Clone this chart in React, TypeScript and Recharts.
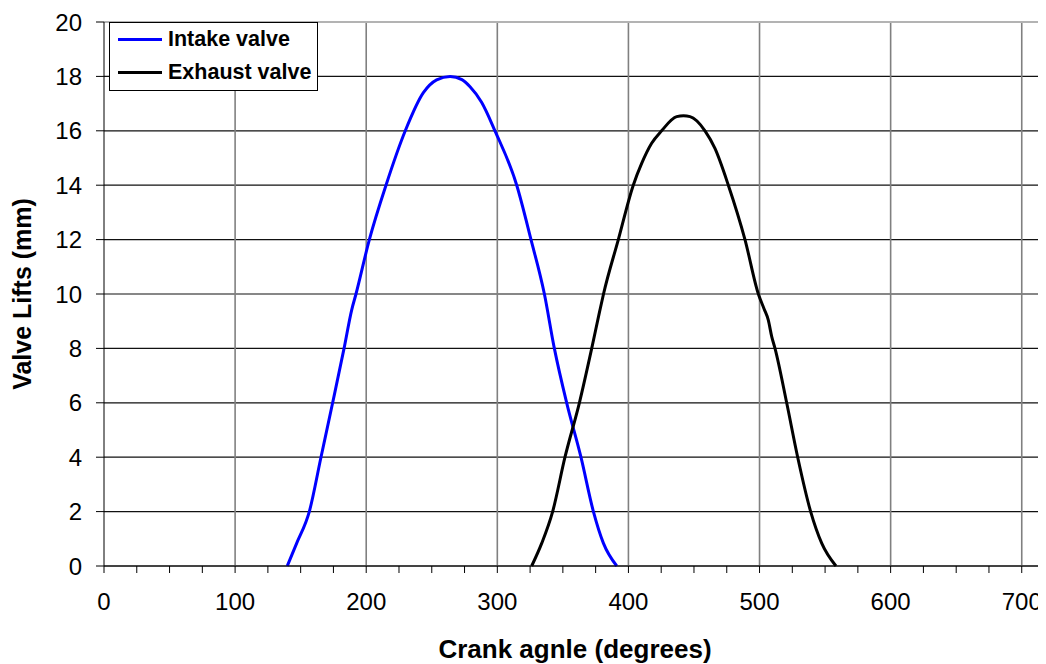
import React from "react";
import {
  LineChart,
  Line,
  XAxis,
  YAxis,
  CartesianGrid,
  ReferenceLine,
  Legend,
} from "recharts";

// Crank angle (degrees) and valve lift (mm)
const intakeAngle = [139.8, 147, 156.6, 165.5, 174.4, 183.1, 188.9, 192.2, 202.4, 215.1, 229.8, 243.6, 253.7, 264, 273, 279.2, 288, 298.2, 314.8, 325.7, 335.9, 343.5, 352.9, 363.8, 373.3, 380.9, 391.1];
const intakeLift = [0, 0.84, 2, 4, 6, 8, 9.41, 10, 12, 14, 16, 17.4, 17.87, 18, 17.88, 17.62, 17.05, 16, 14, 12, 10, 8, 6, 4, 2, 0.84, 0];

const exhaustAngle = [326.2, 333.9, 342.2, 351.6, 362.6, 372, 378, 381, 392.3, 403.7, 410.1, 417.7, 425.3, 436.8, 442, 447, 458.4, 466, 476.2, 488.9, 499.1, 503.5, 506.7, 509.3, 511.8, 520.7, 529.1, 539, 547.4, 558.3];
const exhaustLift = [0, 0.84, 2, 4, 6, 8, 9.35, 10, 12, 14, 14.8, 15.54, 16, 16.52, 16.55, 16.52, 16, 15.35, 14, 12, 10, 9.45, 9.04, 8.43, 8, 6, 4, 2, 0.84, 0];

const seriesNames = ["Intake valve", "Exhaust valve"];

const xTicks = [0, 25, 50, 75, 100, 125, 150, 175, 200, 225, 250, 275, 300, 325, 350, 375, 400, 425, 450, 475, 500, 525, 550, 575, 600, 625, 650, 675, 700];
const xGridValues = [100, 200, 300, 400, 500, 600, 700];
const yTicks = [0, 2, 4, 6, 8, 10, 12, 14, 16, 18, 20];

const intakeData = intakeAngle.map((a, i) => ({ angle: a, lift: intakeLift[i] }));
const exhaustData = exhaustAngle.map((a, i) => ({ angle: a, lift: exhaustLift[i] }));

const FONT = "'Liberation Sans', Arial, sans-serif";

const XTick = (props: any) => {
  const { x, y, payload } = props;
  if (payload.value % 100 !== 0) return null;
  return (
    <text x={x} y={y} dy="0.71em" textAnchor="middle" fontFamily={FONT} fontSize={24} fill="#000">
      {payload.value}
    </text>
  );
};

const YTick = (props: any) => {
  const { x, y, payload } = props;
  return (
    <text x={x} y={y} dy="0.36em" textAnchor="end" fontFamily={FONT} fontSize={24} fill="#000">
      {payload.value}
    </text>
  );
};

const renderLegend = (props: any) => {
  const payload: any[] = props.payload || [];
  const ordered = seriesNames
    .map((n) => payload.find((p: any) => p.value === n))
    .filter(Boolean);
  return (
    <div
      style={{
        boxSizing: "border-box",
        width: 209,
        height: 69,
        border: "1.5px solid #000",
        background: "#fff",
        paddingTop: 0,
      }}
    >
      {ordered.map((entry: any) => (
        <div
          key={entry.value}
          style={{ display: "flex", alignItems: "center", height: 33, paddingLeft: 8 }}
        >
          <div style={{ width: 44, height: 3, background: entry.color, marginRight: 6 }} />
          <span style={{ fontFamily: FONT, fontWeight: "bold", fontSize: 21.5, color: "#000" }}>
            {entry.value}
          </span>
        </div>
      ))}
    </div>
  );
};

export default function App() {
  return (
    <div style={{ width: 1038, height: 656, overflow: "hidden", background: "#fff" }}>
      <LineChart
        width={1038}
        height={656}
        margin={{ top: 14, right: 0, left: 0, bottom: 0 }}
      >
        <CartesianGrid vertical={false} stroke="#111" strokeWidth={1.2} />
        {xGridValues.map((v) => (
          <ReferenceLine key={v} x={v} stroke="#808080" strokeWidth={1.6} />
        ))}
        <ReferenceLine y={20} stroke="#b3b3b3" strokeWidth={2} />
        <XAxis
          type="number"
          dataKey="angle"
          domain={[0, 718.5]}
          ticks={xTicks}
          interval={0}
          allowDataOverflow
          height={98}
          tickSize={7}
          tickMargin={20}
          stroke="#000"
          tick={<XTick />}
          label={{
            value: "Crank agnle (degrees)",
            position: "insideBottom",
            offset: 6,
            style: { fontFamily: FONT, fontWeight: "bold", fontSize: 26, fill: "#000" },
          }}
        />
        <YAxis
          type="number"
          domain={[0, 20]}
          ticks={yTicks}
          interval={0}
          width={96}
          tickSize={8}
          tickMargin={14}
          stroke="#000"
          tick={<YTick />}
          label={{
            value: "Valve Lifts (mm)",
            angle: -90,
            position: "insideLeft",
            offset: 14,
            style: { fontFamily: FONT, fontWeight: "bold", fontSize: 25, fill: "#000", textAnchor: "middle" },
          }}
        />
        <Legend
          layout="vertical"
          align="center"
          verticalAlign="middle"
          wrapperStyle={{ left: 101, top: 14, width: 209, height: 69 }}
          content={renderLegend}
        />
        <Line
          data={intakeData}
          dataKey="lift"
          name="Intake valve"
          type="monotone"
          stroke="#0000ff"
          strokeWidth={3}
          dot={false}
          isAnimationActive={false}
        />
        <Line
          data={exhaustData}
          dataKey="lift"
          name="Exhaust valve"
          type="monotone"
          stroke="#000"
          strokeWidth={3}
          dot={false}
          isAnimationActive={false}
        />
      </LineChart>
    </div>
  );
}
